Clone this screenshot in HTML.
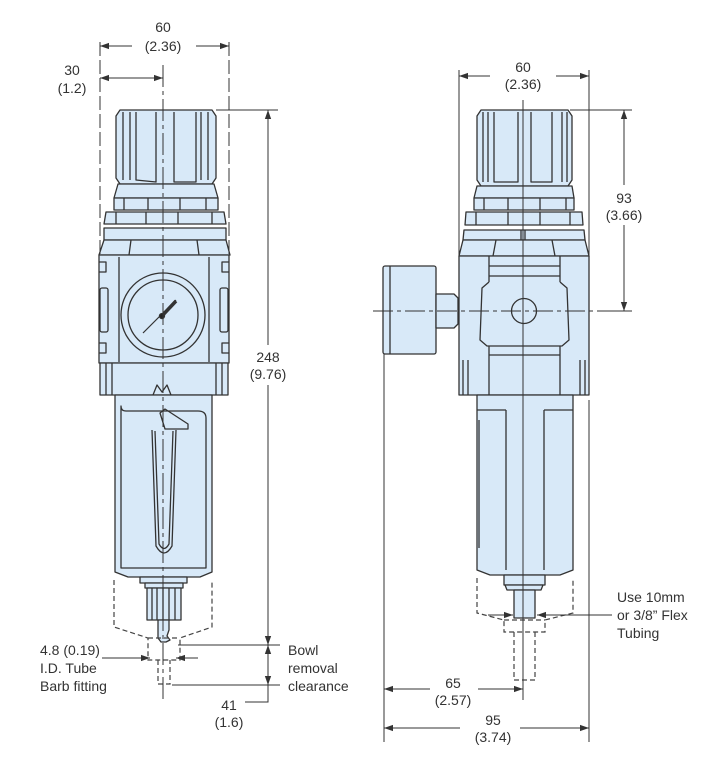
<!DOCTYPE html>
<html><head><style>
html,body{margin:0;padding:0;background:#fff;}
svg{display:block;}
text{font-family:"Liberation Sans",sans-serif;font-size:14px;fill:#333;}
</style></head><body>
<svg width="725" height="758" viewBox="0 0 725 758" xmlns="http://www.w3.org/2000/svg">
<defs>
<marker id="a" viewBox="0 0 10 10" refX="10" refY="5" markerWidth="9" markerHeight="9" orient="auto-start-reverse" markerUnits="userSpaceOnUse"><path d="M0,1.5 L10,5 L0,8.5 Z" fill="#333"/></marker>
</defs>
<g stroke="#333" stroke-width="1.3" fill="#d8e9f8" stroke-linejoin="round">
<!-- LEFT DEVICE -->
<path d="M120,110 L212,110 L216,116 L216,178 L212,184 L120,184 L116,178 L116,116 Z"/>
<path d="M123,112 L123,180 M130,112 L130,180 M136,112 L136,180 L156,182 L156,112 M174,112 L174,182 L196,182 L196,112 M201,112 L201,180 M208,112 L208,180" fill="none"/>
<path d="M118,184 L214,184 L218,198 L114,198 Z"/>
<path d="M114,198 L218,198 L218,210 L114,210 Z M124,198 L124,210 M148,198 L148,210 M180,198 L180,210 M206,198 L206,210"/>
<path d="M106,212 L224,212 L226,224 L104,224 Z M116,212 L116,224 M146,212 L146,224 M178,212 L178,224 M212,212 L212,224"/>
<path d="M104,228 L226,228 L226,240 L104,240 Z"/>
<path d="M104,240 L226,240 L230,255 L99,255 Z M131,240 L129,255 M197,240 L199,255"/>
<path d="M99,255 L229,255 L229,363 L99,363 Z"/>
<path d="M99,262 L106,262 L106,272 L99,272 M99,343 L106,343 L106,353 L99,353 M229,262 L222,262 L222,272 L229,272 M229,343 L222,343 L222,353 L229,353" fill="none"/>
<rect x="100" y="288" width="8" height="44" rx="2"/>
<rect x="220" y="288" width="8" height="44" rx="2"/>
<path d="M119,257 L119,362 M209,257 L209,362" fill="none"/>
<circle cx="163" cy="315" r="42"/>
<circle cx="163" cy="315" r="35"/>
<path d="M143,333 L176,300" stroke-width="1.2"/>
<path d="M160,318 L176,301" stroke-width="3.5"/>
<circle cx="162" cy="316" r="2.5" fill="#222"/>
<path d="M100,363 L228,363 L228,395 L100,395 Z M106,363 L106,395 M112,363 L112,395 M216,363 L216,395 M222,363 L222,395"/>
<path d="M153,395 L157,385 L162,392 L167,385 L171,395" fill="none"/>
<path d="M115,395 L212,395 L212,572 L200,577 L128,577 L115,572 Z"/>
<path d="M121,406 Q121,411 126,411 L198,411 Q206,411 206,418 L206,568 L121,568 Z" fill="none"/>
<path d="M160,413 L165,409 L188,424 L188,429 L165,429 L160,413 Z" fill="none"/>
<path d="M152,430 L156,546 Q164,560 172,546 L176,430 M155,431 L159,544 Q164,553 169,544 L173,431" fill="none"/>
<path d="M140,577 L187,577 L187,583 L140,583 Z"/>
<path d="M145,583 L183,583 L183,588 L145,588 Z"/>
<path d="M147,588 L181,588 L181,620 L147,620 Z M152,588 L152,620 M157,588 L157,620 M163,588 L163,620 M169,588 L169,620 M175,588 L175,620"/>
<path d="M158,620 L169,620 L169,630 L167,636 L170,640 L166,642 L161,642 L158,638 Z"/>
<!-- RIGHT DEVICE -->
<path d="M481,110 L568,110 L572,116 L572,180 L568,186 L481,186 L477,180 L477,116 Z"/>
<path d="M483,112 L483,182 M488,112 L488,182 M494,112 L494,182 L518,182 L518,112 M531,112 L531,182 L552,182 L552,112 M562,112 L562,182 M567,112 L567,182" fill="none"/>
<path d="M477,186 L572,186 L574,198 L474,198 Z"/>
<path d="M474,198 L574,198 L574,210 L474,210 Z M484,198 L484,210 M508,198 L508,210 M540,198 L540,210 M566,198 L566,210"/>
<path d="M466,212 L582,212 L583,225 L465,225 Z M476,212 L476,225 M508,212 L508,225 M540,212 L540,225 M570,212 L570,225"/>
<path d="M464,230 L584,230 L585,240 L463,240 Z"/>
<path d="M463,240 L585,240 L589,256 L459,256 Z M496,240 L493,256 M552,240 L555,256 M521,230 L521,240 M525,230 L525,240"/>
<path d="M459,256 L589,256 L589,395 L459,395 Z"/>
<path d="M489,256 L489,282 M560,256 L560,282 M489,266 L560,266 M489,276 L560,276 M489,282 L482,288 L480,340 L487,346 L489,346 M560,282 L567,288 L569,340 L562,346 L560,346 M489,346 L489,395 M560,346 L560,395 M489,346 L560,346 M489,355 L560,355" fill="none"/>
<path d="M463,360 L463,395 M468,360 L468,395 M580,360 L580,395 M585,360 L585,395" fill="none"/>
<circle cx="524" cy="311" r="12.5"/>
<rect x="383" y="266" width="53" height="88" rx="2"/>
<path d="M390,266 L390,354" fill="none"/>
<path d="M436,294 L454,294 L458,298 L458,324 L454,328 L436,328 Z"/>
<path d="M486,395 L486,399 L491,399 L491,395 M557,395 L557,399 L562,399 L562,395" fill="none"/>
<path d="M477,395 L573,395 L573,570 L560,575 L490,575 L477,570 Z"/>
<path d="M479,420 L479,548" fill="none"/>
<path d="M506,410 L506,570 M544,410 L544,570 M477,410 L506,410 M544,410 L573,410" fill="none"/>
<path d="M504,575 L545,575 L545,585 L504,585 Z"/>
<path d="M505,585 L543,585 L541,590 L507,590 Z"/>
<rect x="514" y="590" width="21" height="28"/>
</g>
<g stroke="#444" stroke-width="1.2" fill="none" stroke-dasharray="5,3">
<path d="M114,580 L114,627 L148,638 L148,660 L180,660 L180,638 L212,627 L212,580"/>
<path d="M148,638 L180,638 M158,660 L158,684 L170,684 L170,660"/>
<path d="M477,578 L477,613 L504,620 L504,632 L545,632 L545,620 L573,613 L573,578"/>
<path d="M514,632 L514,680 L535,680 L535,632 M504,620 L545,620"/>
</g>
<g stroke="#333" stroke-width="1" fill="none">
<path d="M163,65 L163,700" stroke-dasharray="22,4,4,4"/>
<path d="M523,100 L523,700" />
<path d="M373,311 L612,311" stroke-dasharray="20,4,4,4"/>
<path d="M100,42 L100,258 M229,42 L229,258" stroke-dasharray="14,4"/>
<path d="M459,70 L459,255 M589,70 L589,255"/>
<path d="M384,354 L384,742 M589,400 L589,742"/>
<path d="M216,110 L278,110 M178,645 L280,645 M172,685 L280,685 M245,702 L268,702 L268,685"/>
<path d="M570,110 L632,110 M600,311 L632,311"/>
</g>
<g stroke="#333" stroke-width="1" fill="none" marker-end="url(#a)">
<path d="M132,46 L100,46"/><path d="M196,46 L229,46"/>
<path d="M100,78 L163,78" marker-start="url(#a)"/>
<path d="M268,345 L268,110"/><path d="M268,385 L268,645"/>
<path d="M268,665 L268,645"/><path d="M268,665 L268,685"/>
<path d="M102,658 L150,658"/><path d="M198,658 L176,658"/>
<path d="M490,76 L459,76"/><path d="M556,76 L589,76"/>
<path d="M624,185 L624,110"/><path d="M624,225 L624,311"/>
<path d="M488,615 L513,615"/><path d="M612,615 L537,615"/>
<path d="M430,689 L384,689"/><path d="M478,689 L523,689"/>
<path d="M460,728 L384,728"/><path d="M520,728 L589,728"/>
</g>
<g text-anchor="middle">
<text x="163" y="32">60</text><text x="163" y="51">(2.36)</text>
<text x="72" y="75">30</text><text x="72" y="93">(1.2)</text>
<text x="268" y="362">248</text><text x="268" y="379">(9.76)</text>
<text x="229" y="710">41</text><text x="229" y="727">(1.6)</text>
<text x="523" y="72">60</text><text x="523" y="89">(2.36)</text>
<text x="624" y="203">93</text><text x="624" y="220">(3.66)</text>
<text x="453" y="688">65</text><text x="453" y="705">(2.57)</text>
<text x="493" y="725">95</text><text x="493" y="742">(3.74)</text>
</g>
<text x="40" y="655">4.8 (0.19)</text>
<text x="40" y="673">I.D. Tube</text>
<text x="40" y="691">Barb fitting</text>
<text x="288" y="655">Bowl</text>
<text x="288" y="673">removal</text>
<text x="288" y="691">clearance</text>
<text x="617" y="602">Use 10mm</text>
<text x="617" y="620">or 3/8” Flex</text>
<text x="617" y="638">Tubing</text>
</svg>
</body></html>
